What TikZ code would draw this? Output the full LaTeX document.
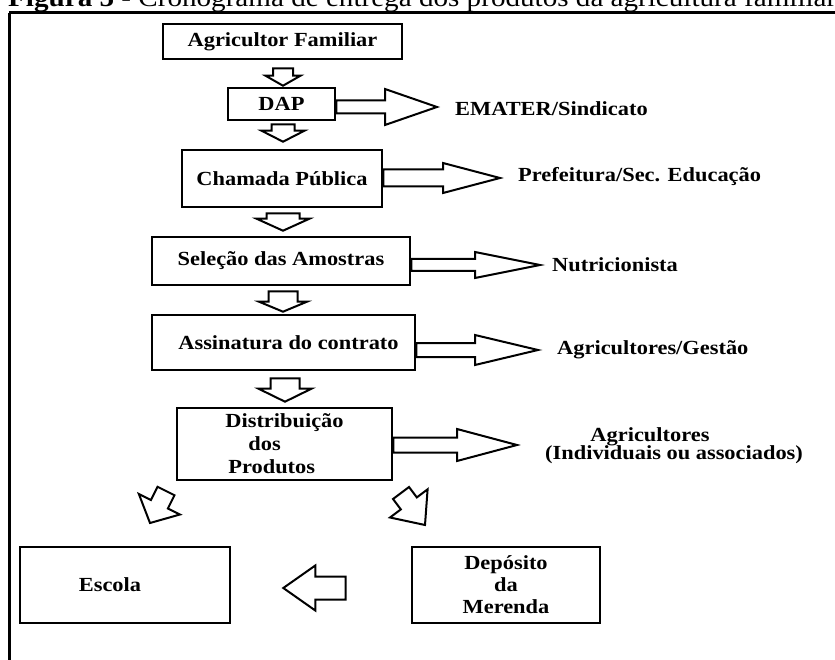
\documentclass[tikz,border=0pt]{standalone}
\usepackage{fontspec}
\setmainfont{Liberation Serif}[FakeStretch=1.12]
\usetikzlibrary{calc}
\newcommand\blkarrow[5]{%
  \coordinate (ba) at (#1);
  \coordinate (bb) at (#2);
  \coordinate (bh) at ($(bb)!#5!(ba)$);
  \draw[blk] ($(ba)!#3!90:(bb)$) -- ($(bh)!#3!90:(bb)$) -- ($(bh)!#4!90:(bb)$) -- (bb)
    -- ($(bh)!#4!-90:(bb)$) -- ($(bh)!#3!-90:(bb)$) -- ($(ba)!#3!-90:(bb)$) -- cycle;}
\tikzset{
  box/.style={draw, line width=2.6pt, inner sep=0pt, align=center,
    font=\fontsize{20}{23}\selectfont\bfseries},
  lbl/.style={inner sep=0pt, anchor=west, font=\fontsize{20}{23}\selectfont\bfseries},
  blk/.style={draw, line width=2pt, fill=white, line join=miter},
  frame/.style={line width=3pt}
}
\begin{document}
\begin{tikzpicture}[x=1pt,y=-1pt]
\useasboundingbox (0,0) rectangle (835,660);
% title (cut off at top) and frame
\node[anchor=base west, inner sep=0pt, font=\fontsize{26}{28}\selectfont] (ttl) at (8,7)
  {\textbf{Figura 5} - Cronograma de entrega dos produtos da agricultura familiar};
\draw[frame] (9,13) -- (845,13);
\draw[frame] (9,13) -- (9,670);
% boxes
\node[box, minimum width=239pt, minimum height=35pt] (agr) at (282.5,41.5) {Agricultor Familiar};
\node[box, minimum width=107pt, minimum height=32pt] (dap) at (281.5,104) {DAP};
\node[box, minimum width=200pt, minimum height=57pt] (cham) at (282,178.5) {Chamada Pública};
\node[box, minimum width=258pt, minimum height=48pt] (sel) at (281,261) {Seleção das Amostras};
\node[box, minimum width=263pt, minimum height=55pt] (ass) at (283.5,342.5) {\hspace*{10pt}Assinatura do contrato};
\node[box, minimum width=215pt, minimum height=72pt, align=left] (dist) at (284.5,444)
  {Distribuição\\\hspace*{23pt}dos\\\hspace*{3pt}Produtos};
\node[box, minimum width=210pt, minimum height=76pt] (esc) at (125,585) {Escola\hspace*{30pt}};
\node[box, minimum width=188pt, minimum height=76pt, font=\fontsize{20}{22}\selectfont\bfseries] (dep) at (506,585)
  {Depósito\\da\\Merenda};
% labels
\node[lbl] (ema) at (455,109) {EMATER/Sindicato};
\node[lbl] (pre) at (518,177) {Prefeitura/Sec. Educação};
\node[lbl] (nut) at (552,265) {Nutricionista};
\node[lbl] (ages) at (557,350) {Agricultores/Gestão};
\node[lbl, anchor=center] (agri) at (650,437) {Agricultores};
\node[lbl] (ind) at (545,455) {(Individuais ou associados)};
% down arrows
\blkarrow{$(agr.south)+(0.5,8)$}{$(dap.north)+(1.5,-1)$}{10pt}{17.5pt}{10pt}
\blkarrow{$(dap.south)+(1.5,3)$}{$(cham.north)+(1,-7)$}{11.5pt}{21.5pt}{11pt}
\blkarrow{$(cham.south)+(1,5)$}{$(sel.north)+(2,-5)$}{16.5pt}{26.5pt}{12pt}
\blkarrow{$(sel.south)+(2,5)$}{$(ass.north)+(-0.5,-2)$}{14.5pt}{24pt}{10pt}
\blkarrow{$(ass.south)+(1.5,7)$}{$(dist.north)+(0.5,-5)$}{14.5pt}{26.5pt}{13pt}
% right arrows
\blkarrow{$(dap.east)+(0,3)$}{$(ema.west)+(-18,-2)$}{6.5pt}{18pt}{52pt}
\blkarrow{$(cham.east)+(0,-0.5)$}{$(pre.west)+(-18,1)$}{8.5pt}{15pt}{57pt}
\blkarrow{$(sel.east)+(0,4)$}{$(nut.west)+(-12,0)$}{6pt}{13pt}{65pt}
\blkarrow{$(ass.east)+(0,7.5)$}{$(ages.west)+(-19,0)$}{7pt}{15pt}{63pt}
\blkarrow{$(dist.east)+(0,1)$}{$(ind.west)+(-28,-10)$}{7.5pt}{16pt}{60pt}
% diagonal arrows
\coordinate (dl1) at (166,491);
\coordinate (dl2) at (150,523);
\coordinate (dr1) at (401,493);
\coordinate (dr2) at (425,525);
\blkarrow{dl1}{dl2}{9.5pt}{23pt}{21pt}
\blkarrow{dr1}{dr2}{10pt}{23.5pt}{27pt}
% left arrow between bottom boxes
\blkarrow{$(dep.west)+(-65,3)$}{$(esc.east)+(52,3)$}{11.5pt}{22.5pt}{32pt}
\end{tikzpicture}
\end{document}
